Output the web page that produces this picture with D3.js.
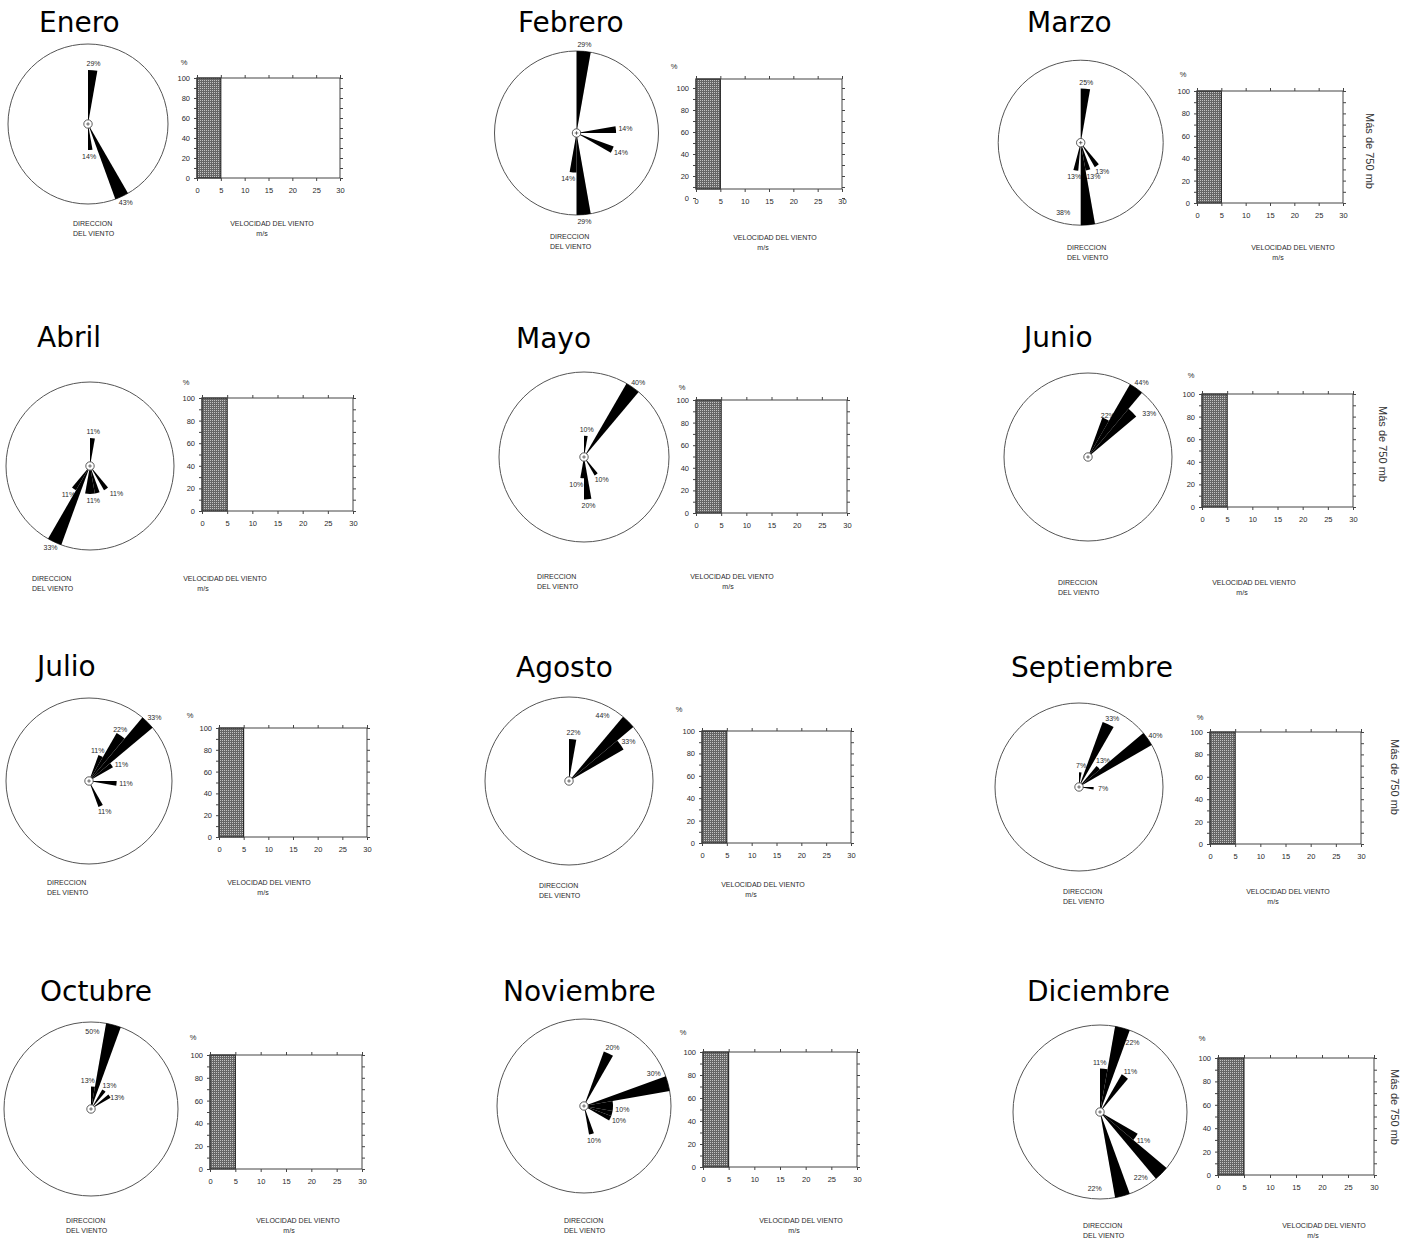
<!DOCTYPE html>
<html><head><meta charset="utf-8">
<script src="https://cdn.jsdelivr.net/npm/d3@7"></script>
<style>body{margin:0;background:#fff}svg{display:block}</style>
</head><body>
<svg id="c" width="1414" height="1243"></svg>
<script>
// ---------- DATA ----------
const months = ["Enero","Febrero","Marzo","Abril","Mayo","Junio","Julio","Agosto","Septiembre","Octubre","Noviembre","Diciembre"];
// wind rose sectors: dir = start bearing of 10° sector (clockwise from N), pct = frequency
const roseEnero      = [{dir:0,pct:29},{dir:150,pct:43},{dir:170,pct:14}];
const roseFebrero    = [{dir:0,pct:29},{dir:80,pct:14},{dir:110,pct:14},{dir:170,pct:29},{dir:180,pct:14}];
const roseMarzo      = [{dir:0,pct:25},{dir:140,pct:13},{dir:160,pct:13},{dir:170,pct:38},{dir:185,pct:13}];
const roseAbril      = [{dir:0,pct:11},{dir:140,pct:11},{dir:160,pct:11,nolabel:true},{dir:170,pct:11},{dir:180,pct:11,nolabel:true},{dir:200,pct:33},{dir:210,pct:11}];
const roseMayo       = [{dir:0,pct:10},{dir:30,pct:40},{dir:140,pct:10},{dir:170,pct:20},{dir:180,pct:10}];
const roseJunio      = [{dir:20,pct:22},{dir:30,pct:44},{dir:40,pct:33}];
const roseJulio      = [{dir:20,pct:11},{dir:30,pct:22},{dir:40,pct:33},{dir:50,pct:11},{dir:90,pct:11},{dir:150,pct:11}];
const roseAgosto     = [{dir:0,pct:22},{dir:40,pct:44},{dir:50,pct:33}];
const roseSeptiembre = [{dir:0,pct:7},{dir:20,pct:33},{dir:40,pct:13},{dir:50,pct:40},{dir:90,pct:7}];
const roseOctubre    = [{dir:0,pct:13},{dir:10,pct:50},{dir:30,pct:13},{dir:50,pct:13}];
const roseNoviembre  = [{dir:20,pct:20},{dir:70,pct:30},{dir:80,pct:10,nolabel:true},{dir:90,pct:10},{dir:100,pct:10,nolabel:true},{dir:110,pct:10},{dir:160,pct:10}];
const roseDiciembre  = [{dir:0,pct:11},{dir:10,pct:22},{dir:30,pct:11},{dir:120,pct:11},{dir:130,pct:22},{dir:160,pct:22}];
const roses = [roseEnero,roseFebrero,roseMarzo,roseAbril,roseMayo,roseJunio,roseJulio,roseAgosto,roseSeptiembre,roseOctubre,roseNoviembre,roseDiciembre];
const sectorWidth = 10;
// wind speed distribution: class 0-5 m/s holds 100% every month
const speedClass = [0,5];
const speedPct = [100,100,100,100,100,100,100,100,100,100,100,100];
const xTicks = [0,5,10,15,20,25,30];
const yTicks = [0,20,40,60,80,100];
const sideNote = "Más de 750 mb";

// ---------- LAYOUT (pixel placement of each panel; label nudges in px) ----------
const layout = [
 {t:[39,32],   c:[88,124],   r:80,   f:[197,340,78,178],    pc:[184,62],   dir:[73,224],   vel:[272,224],  ms:262, nudge:{2:[-2,0]}},
 {t:[518,32],  c:[576.5,133],r:82,   f:[696,842,79,189],    pc:[674,66],   dir:[550,237],  vel:[775,238],  ms:763, shift:9, nudge:{4:[-4,0]}},
 {t:[1027,32], c:[1080.7,142.7],r:82.5,f:[1197,1343,91,203],pc:[1183,74],  dir:[1067,248], vel:[1293,248], ms:1278, side:[1370,151], inLab:{3:19}, nudge:{2:[3,0]}},
 {t:[37,347],  c:[90,466],   r:84,   f:[202,353,398,511],   pc:[186,382],  dir:[32,579],   vel:[225,579],  ms:203, nudge:{1:[5,-1]}},
 {t:[516,348], c:[584,457],  r:85,   f:[696,847,400,513],   pc:[682,387],  dir:[537,577],  vel:[732,577],  ms:728, nudge:{4:[-5,0]}},
 {t:[1024,347],c:[1088,457], r:84,   f:[1202,1353,394,507], pc:[1191,375], dir:[1058,583], vel:[1254,583], ms:1242, side:[1383,444], nudge:{0:[-2,2],2:[10,6]}},
 {t:[37,676],  c:[89,781],   r:83,   f:[219,367,728,837],   pc:[190,715],  dir:[47,883],   vel:[269,883],  ms:263, nudge:{0:[-7,0],1:[-6,-1],3:[2,3]}},
 {t:[516,677], c:[569,781],  r:84,   f:[702,851,731,843],   pc:[679,709],  dir:[539,886],  vel:[763,885],  ms:751, inLab:{1:-18}},
 {t:[1011,677],c:[1079,787], r:84,   f:[1210,1361,732,844], pc:[1200,717], dir:[1063,892], vel:[1288,892], ms:1273, side:[1395,777], nudge:{2:[-2,-3]}},
 {t:[40,1001], c:[91,1109],  r:87,   f:[210,362,1055,1169], pc:[193,1037], dir:[66,1221],  vel:[298,1221], ms:289, inLab:{1:-14}, nudge:{0:[-6,1],3:[0,5]}},
 {t:[503,1001],c:[584,1106], r:87,   f:[703,857,1052,1167], pc:[683,1032], dir:[564,1221], vel:[801,1221], ms:794, inLab:{1:-10}},
 {t:[1027,1001],c:[1100,1112],r:87,  f:[1218,1374,1058,1175],pc:[1202,1038],dir:[1083,1226],vel:[1324,1226],ms:1313, side:[1395,1107], inLab:{1:10,4:13,5:19}, nudge:{0:[-5,0]}}
];

const SMALL = "'Liberation Sans', Arial, sans-serif";
const INK = "#2a2a2a";
const svg = d3.select("#c");
const defs = svg.append("defs");
const pat = defs.append("pattern").attr("id","dots").attr("width",2).attr("height",2).attr("patternUnits","userSpaceOnUse");
pat.append("rect").attr("width",2).attr("height",2).attr("fill","#666");
pat.append("rect").attr("width",1).attr("height",1).attr("fill","#c4c4c4");

const ang = d3.scaleLinear().domain([0,360]).range([0,2*Math.PI]);
const arc = d3.arc().innerRadius(0);

months.forEach((m,i)=>{
  const L = layout[i], rose = roses[i];
  const g = svg.append("g");

  g.append("text").attr("x",L.t[0]).attr("y",L.t[1]).text(m)
   .attr("font-family","'DejaVu Sans', Verdana, sans-serif").attr("font-size",28).attr("fill","#000");

  // ---- wind rose ----
  const rg = g.append("g").attr("transform",`translate(${L.c[0]},${L.c[1]})`);
  rg.append("circle").attr("r",L.r).attr("fill","none").attr("stroke","#555").attr("stroke-width",1);
  const rs = d3.scaleLinear().domain([0,d3.max(rose,d=>d.pct)]).range([0,L.r]);

  rose.forEach((d,k)=>{
    if(d.nolabel) return;
    const mid = d.dir + sectorWidth/2;
    let x, y;
    if(L.inLab && L.inLab[k]!==undefined){
      const b = ang(mid + L.inLab[k]), dist = L.r - 10;
      x = dist*Math.sin(b); y = -dist*Math.cos(b);
    } else {
      const b = ang(mid), s = Math.sin(b), c = Math.cos(b), t = rs(d.pct);
      x = t*s + s*9.5; y = -t*c - c*6.5;
    }
    if(L.nudge && L.nudge[k]){ x += L.nudge[k][0]; y += L.nudge[k][1]; }
    rg.append("text").attr("x",x).attr("y",y).attr("dy","0.35em").attr("text-anchor","middle")
      .attr("font-family",SMALL).attr("font-size",7).attr("fill",INK).text(d.pct+"%");
  });

  rg.selectAll("path.w").data(rose).join("path").attr("class","w")
    .attr("d",d=>arc({outerRadius:rs(d.pct),startAngle:ang(d.dir),endAngle:ang(d.dir+sectorWidth)}))
    .attr("fill","#000");
  rg.append("circle").attr("r",4.2).attr("fill","#fff").attr("stroke","#333").attr("stroke-width",0.8);
  rg.append("path").attr("d","M-1.8,0H1.8M0,-1.8V1.8").attr("stroke","#333").attr("stroke-width",0.7);

  g.append("text").attr("x",L.dir[0]).attr("y",L.dir[1]).attr("dy","0.35em")
   .attr("font-family",SMALL).attr("font-size",7).attr("fill",INK).text("DIRECCION");
  g.append("text").attr("x",L.dir[0]).attr("y",L.dir[1]+10).attr("dy","0.35em")
   .attr("font-family",SMALL).attr("font-size",7).attr("fill",INK).text("DEL VIENTO");

  // ---- speed histogram ----
  const x = d3.scaleLinear().domain([0,30]).range([L.f[0],L.f[1]]);
  const y = d3.scaleLinear().domain([0,100]).range([L.f[3],L.f[2]]);
  const sh = L.shift || 0;

  g.append("rect").attr("x",x(speedClass[0])).attr("y",y(speedPct[i]))
   .attr("width",x(speedClass[1])-x(speedClass[0])).attr("height",y(0)-y(speedPct[i]))
   .attr("fill","url(#dots)").attr("stroke","#111").attr("stroke-width",1);
  g.append("rect").attr("x",x(0)).attr("y",y(100)).attr("width",x(30)-x(0)).attr("height",y(0)-y(100))
   .attr("fill","none").attr("stroke","#444").attr("stroke-width",1);

  const style = sel=>{
    sel.select(".domain").remove();
    sel.selectAll(".tick line").attr("stroke","#444");
    sel.selectAll("text").attr("font-family",SMALL).attr("font-size",7.5).attr("fill",INK);
  };
  g.append("g").attr("transform",`translate(${x(0)},${sh})`)
   .call(d3.axisLeft(y).tickValues(d3.range(0,101,10)).tickSize(3).tickPadding(4)
     .tickFormat(v=> yTicks.includes(v) ? v : "")).call(style);
  g.append("g").attr("transform",`translate(${x(30)},${sh})`)
   .call(d3.axisRight(y).tickValues(d3.range(0,101,10)).tickSize(3).tickFormat("")).call(style);
  g.append("g").attr("transform",`translate(0,${y(100)})`)
   .call(d3.axisTop(x).tickValues(xTicks).tickSize(3).tickFormat("")).call(style);
  g.append("g").attr("transform",`translate(0,${y(0)})`)
   .call(d3.axisBottom(x).tickValues(xTicks).tickSize(3).tickPadding(7)).call(style);

  g.append("text").attr("x",L.pc[0]).attr("y",L.pc[1]).attr("dy","0.35em").attr("text-anchor","middle")
   .attr("font-family",SMALL).attr("font-size",7.5).attr("fill",INK).text("%");
  g.append("text").attr("x",L.vel[0]).attr("y",L.vel[1]).attr("dy","0.35em").attr("text-anchor","middle")
   .attr("font-family",SMALL).attr("font-size",7).attr("fill",INK).text("VELOCIDAD DEL VIENTO");
  g.append("text").attr("x",L.ms).attr("y",L.vel[1]+10).attr("dy","0.35em").attr("text-anchor","middle")
   .attr("font-family",SMALL).attr("font-size",7).attr("fill",INK).text("m/s");

  if(L.side){
    g.append("text").attr("transform",`translate(${L.side[0]},${L.side[1]}) rotate(90)`)
     .attr("text-anchor","middle").attr("dy","0.35em")
     .attr("font-family",SMALL).attr("font-size",11).attr("fill","#333").text(sideNote);
  }
});
</script>
</body></html>
